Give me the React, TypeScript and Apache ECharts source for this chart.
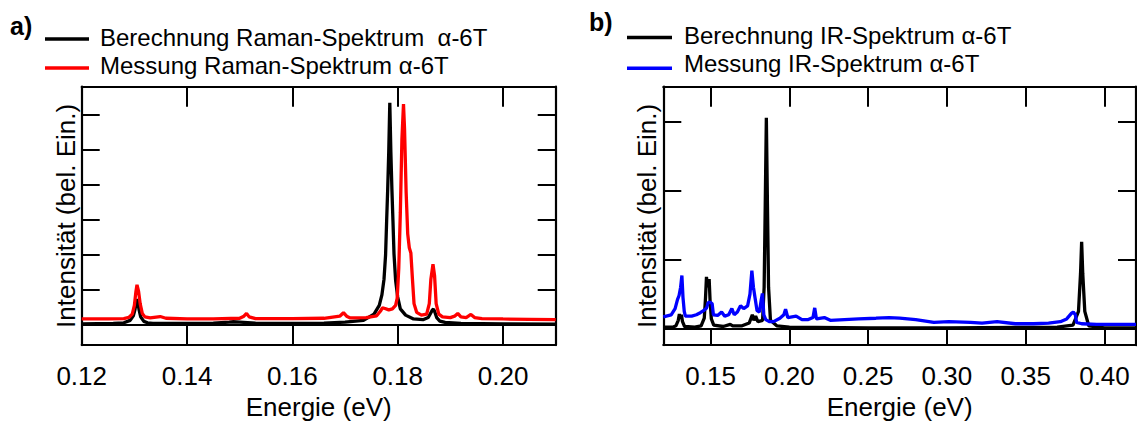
import React, { useEffect, useRef } from "react";
import * as echarts from "echarts";

// ---------- data ----------
const ramanCalcE = [0.120, 0.126, 0.128, 0.1292, 0.1298, 0.1301, 0.1303, 0.1305, 0.1307, 0.1309, 0.1312, 0.1318, 0.1325, 0.1335, 0.140, 0.145, 0.148, 0.1488, 0.150, 0.153, 0.160, 0.166, 0.170, 0.1735, 0.1755, 0.1765, 0.1770, 0.1774, 0.1777, 0.1779, 0.1781, 0.1783, 0.1785, 0.1787, 0.1789, 0.1791, 0.1793, 0.1796, 0.1800, 0.1805, 0.1815, 0.1830, 0.1848, 0.1858, 0.1863, 0.1866, 0.1868, 0.1870, 0.1874, 0.1880, 0.189, 0.192, 0.200, 0.210];
const ramanCalcI = [0.02, 0.03, 0.05, 0.12, 0.25, 0.42, 0.6, 0.73, 0.6, 0.42, 0.22, 0.09, 0.05, 0.03, 0.03, 0.04, 0.07, 0.08, 0.07, 0.04, 0.03, 0.04, 0.07, 0.12, 0.3, 0.55, 0.85, 1.3, 2.0, 2.97, 3.88, 4.95, 6.36, 4.95, 3.88, 2.97, 2.02, 1.27, 0.79, 0.45, 0.27, 0.16, 0.14, 0.2, 0.34, 0.42, 0.44, 0.38, 0.2, 0.1, 0.06, 0.03, 0.02, 0.01];

const ramanMeasE = [0.120, 0.125, 0.128, 0.129, 0.1296, 0.1300, 0.1303, 0.1305, 0.1308, 0.1311, 0.1315, 0.132, 0.133, 0.1349, 0.136, 0.140, 0.145, 0.150, 0.1508, 0.1513, 0.1518, 0.153, 0.160, 0.166, 0.1690, 0.1697, 0.1703, 0.171, 0.174, 0.1760, 0.1767, 0.1771, 0.1776, 0.1783, 0.1790, 0.1796, 0.1799, 0.1802, 0.1805, 0.1808, 0.1811, 0.1813, 0.1816, 0.1819, 0.1822, 0.1825, 0.1828, 0.1831, 0.1836, 0.1845, 0.1855, 0.1860, 0.1863, 0.1867, 0.1870, 0.1873, 0.1878, 0.1885, 0.1900, 0.1908, 0.1914, 0.1920, 0.1930, 0.1939, 0.1946, 0.196, 0.200, 0.205, 0.210];
const ramanMeasI = [0.16, 0.16, 0.17, 0.21, 0.3, 0.55, 0.95, 1.14, 0.95, 0.6, 0.32, 0.22, 0.19, 0.23, 0.18, 0.16, 0.16, 0.18, 0.24, 0.32, 0.22, 0.17, 0.17, 0.18, 0.24, 0.34, 0.24, 0.19, 0.2, 0.25, 0.38, 0.48, 0.46, 0.42, 0.45, 0.55, 0.75, 1.6, 3.2, 5.3, 6.32, 5.6, 3.8, 2.6, 2.2, 2.05, 1.3, 0.6, 0.35, 0.27, 0.3, 0.6, 1.3, 1.73, 1.4, 0.6, 0.3, 0.22, 0.2, 0.24, 0.32, 0.22, 0.2, 0.29, 0.2, 0.17, 0.16, 0.15, 0.14];

const irCalcE = [0.120, 0.126, 0.128, 0.1295, 0.1302, 0.1308, 0.1315, 0.1322, 0.1335, 0.140, 0.144, 0.1460, 0.1468, 0.1474, 0.1480, 0.1486, 0.1491, 0.1497, 0.1505, 0.152, 0.158, 0.1625, 0.164, 0.170, 0.1745, 0.1765, 0.1775, 0.1786, 0.1800, 0.1830, 0.1840, 0.1847, 0.1854, 0.1861, 0.1868, 0.1880, 0.192, 0.200, 0.250, 0.300, 0.370, 0.380, 0.3835, 0.3848, 0.3855, 0.3862, 0.3875, 0.390, 0.400, 0.420];
const irCalcI = [0.02, 0.02, 0.04, 0.12, 0.21, 0.14, 0.2, 0.1, 0.03, 0.02, 0.04, 0.15, 0.45, 0.75, 0.6, 0.66, 0.72, 0.4, 0.14, 0.05, 0.03, 0.06, 0.04, 0.04, 0.08, 0.2, 0.12, 0.18, 0.1, 0.12, 0.6, 1.8, 3.06, 1.8, 0.6, 0.12, 0.04, 0.02, 0.01, 0.01, 0.02, 0.05, 0.25, 0.8, 1.26, 0.8, 0.25, 0.04, 0.01, 0.01];

const irMeasE = [0.1200, 0.1250, 0.1275, 0.1290, 0.1300, 0.1310, 0.1318, 0.1325, 0.1333, 0.1340, 0.1380, 0.1410, 0.1435, 0.1455, 0.1475, 0.1485, 0.1500, 0.1510, 0.1518, 0.1545, 0.1570, 0.1590, 0.1615, 0.1635, 0.1650, 0.1670, 0.1690, 0.1710, 0.1735, 0.1750, 0.1762, 0.1772, 0.1782, 0.1795, 0.1810, 0.1822, 0.1829, 0.1838, 0.1850, 0.1875, 0.1900, 0.1940, 0.1965, 0.1976, 0.1990, 0.2043, 0.2080, 0.2120, 0.2150, 0.2161, 0.2172, 0.2222, 0.2260, 0.2350, 0.2440, 0.2550, 0.2633, 0.2700, 0.2802, 0.2917, 0.3012, 0.3150, 0.3223, 0.3318, 0.3434, 0.3550, 0.3645, 0.3720, 0.3760, 0.3790, 0.3802, 0.3815, 0.3823, 0.3855, 0.3950, 0.4100, 0.4200];
const irMeasI = [0.17, 0.2, 0.29, 0.42, 0.48, 0.6, 0.77, 0.45, 0.25, 0.18, 0.18, 0.2, 0.23, 0.26, 0.3, 0.38, 0.38, 0.36, 0.2, 0.19, 0.24, 0.18, 0.2, 0.29, 0.2, 0.24, 0.33, 0.29, 0.33, 0.5, 0.84, 0.6, 0.45, 0.26, 0.24, 0.42, 0.51, 0.2, 0.13, 0.1, 0.1, 0.15, 0.2, 0.28, 0.16, 0.18, 0.13, 0.13, 0.16, 0.3, 0.14, 0.16, 0.12, 0.13, 0.14, 0.15, 0.16, 0.15, 0.13, 0.09, 0.1, 0.09, 0.08, 0.1, 0.07, 0.07, 0.08, 0.1, 0.14, 0.22, 0.24, 0.2, 0.09, 0.07, 0.06, 0.06, 0.06];

const xTicksA = [0.12, 0.14, 0.16, 0.18, 0.2];
const xTicksB = [0.15, 0.2, 0.25, 0.3, 0.35, 0.4];
const yTicksA = [1, 2, 3, 4, 5, 6];
const yTicksB = [1, 2, 3];

const nameRamanCalc = "Berechnung Raman-Spektrum  α-6T";
const nameRamanMeas = "Messung Raman-Spektrum α-6T";
const nameIrCalc = "Berechnung IR-Spektrum α-6T";
const nameIrMeas = "Messung IR-Spektrum α-6T";
const xName = "Energie (eV)";
const yName = "Intensität (bel. Ein.)";

const FONT = "'Liberation Sans', Arial, sans-serif";

const pairs = (xs: number[], ys: number[]) => xs.map((x, i) => [x, ys[i]]);

export default function App() {
  const ref = useRef<HTMLDivElement>(null);
  useEffect(() => {
    if (!ref.current) return;
    const chart = echarts.init(ref.current, null, { renderer: "svg" });
    const line = { lineStyle: { color: "#000", width: 2.2 } };
    const bottomX = (grid: number, min: number, max: number, ticks: number[], tickLen: number) => ({
      type: "value", gridIndex: grid, position: "bottom", min, max,
      axisLine: { show: true, onZero: false, ...line },
      axisTick: { show: true, inside: true, length: tickLen, customValues: ticks, lineStyle: { color: "#000", width: 2 } },
      axisLabel: { show: true, customValues: ticks, margin: 18, fontSize: 26, color: "#000", fontFamily: FONT, formatter: (v: number) => v.toFixed(2) },
      splitLine: { show: false },
      name: xName, nameLocation: "middle", nameGap: 46,
      nameTextStyle: { fontSize: 26, color: "#000", fontFamily: FONT },
    });
    const topX = (grid: number, min: number, max: number, ticks: number[]) => ({
      type: "value", gridIndex: grid, position: "top", min, max,
      axisLine: { show: true, onZero: false, ...line },
      axisTick: { show: true, inside: true, length: 20, customValues: ticks, lineStyle: { color: "#000", width: 2 } },
      axisLabel: { show: false }, splitLine: { show: false },
    });
    const yAx = (grid: number, pos: string, min: number, max: number, ticks: number[], withName: boolean) => ({
      type: "value", gridIndex: grid, position: pos, min, max,
      axisLine: { show: true, onZero: false, ...line },
      axisTick: { show: true, inside: true, length: 18, customValues: ticks, lineStyle: { color: "#000", width: 2 } },
      axisLabel: { show: false }, splitLine: { show: false },
      ...(withName ? {
        name: yName, nameLocation: "middle", nameGap: 3, nameRotate: 90,
        nameTextStyle: { fontSize: 26, color: "#000", fontFamily: FONT },
      } : {}),
    });
    const zeroLine = { silent: true, symbol: "none", label: { show: false }, lineStyle: { color: "#000", width: 2, type: "solid" }, data: [{ yAxis: 0 }] };
    const series = (name: string, xs: number[], ys: number[], color: string, xi: number, yi: number, withZero: boolean) => ({
      type: "line", name, data: pairs(xs, ys), xAxisIndex: xi, yAxisIndex: yi,
      showSymbol: false, symbol: "none", lineStyle: { color, width: 3.3 }, itemStyle: { color },
      ...(withZero ? { markLine: zeroLine } : {}),
    });
    const legendLine = (x1: number, x2: number, y: number, color: string) => ({
      type: "line", shape: { x1, y1: y, x2, y2: y }, style: { stroke: color, lineWidth: 3.5 },
    });
    const legendText = (x: number, y: number, text: string) => ({
      type: "text", x, y, style: { text, fontSize: 24, fontFamily: FONT, fill: "#000", verticalAlign: "middle", align: "left" },
    });
    chart.setOption({
      animation: false,
      backgroundColor: "#fff",
      grid: [
        { left: 81.7, top: 86.7, width: 474, height: 271.6 },
        { left: 663.3, top: 86.7, width: 472.7, height: 271.6 },
      ],
      xAxis: [
        bottomX(0, 0.12, 0.21, xTicksA, 21),
        topX(0, 0.12, 0.21, xTicksA),
        bottomX(1, 0.12, 0.42, xTicksB, 17),
        topX(1, 0.12, 0.42, xTicksB),
      ],
      yAxis: [
        yAx(0, "left", -0.589, 6.818, yTicksA, true),
        yAx(0, "right", -0.589, 6.818, yTicksA, false),
        yAx(1, "left", -0.24, 3.51, yTicksB, true),
        yAx(1, "right", -0.24, 3.51, yTicksB, false),
      ],
      series: [
        series(nameRamanCalc, ramanCalcE, ramanCalcI, "#000", 0, 0, true),
        series(nameRamanMeas, ramanMeasE, ramanMeasI, "#ff0000", 0, 0, false),
        series(nameIrCalc, irCalcE, irCalcI, "#000", 2, 2, true),
        series(nameIrMeas, irMeasE, irMeasI, "#0000ff", 2, 2, false),
      ],
      graphic: [
        { type: "text", x: 10, y: 26, style: { text: "a)", fontSize: 25, fontWeight: "bold", fontFamily: FONT, fill: "#000", verticalAlign: "middle" } },
        legendLine(45, 89, 39, "#000"),
        legendText(100, 37, nameRamanCalc),
        legendLine(45, 89, 68, "#ff0000"),
        legendText(100, 65.5, nameRamanMeas),
        { type: "text", x: 589, y: 22, style: { text: "b)", fontSize: 25, fontWeight: "bold", fontFamily: FONT, fill: "#000", verticalAlign: "middle" } },
        legendLine(627, 672, 37.5, "#000"),
        legendText(684, 35, nameIrCalc),
        legendLine(627, 672, 68.3, "#0000ff"),
        legendText(684, 63.5, nameIrMeas),
      ],
    });
    return () => chart.dispose();
  }, []);
  return <div ref={ref} style={{ position: "absolute", left: 0, top: 0, width: 1137, height: 425 }} />;
}
